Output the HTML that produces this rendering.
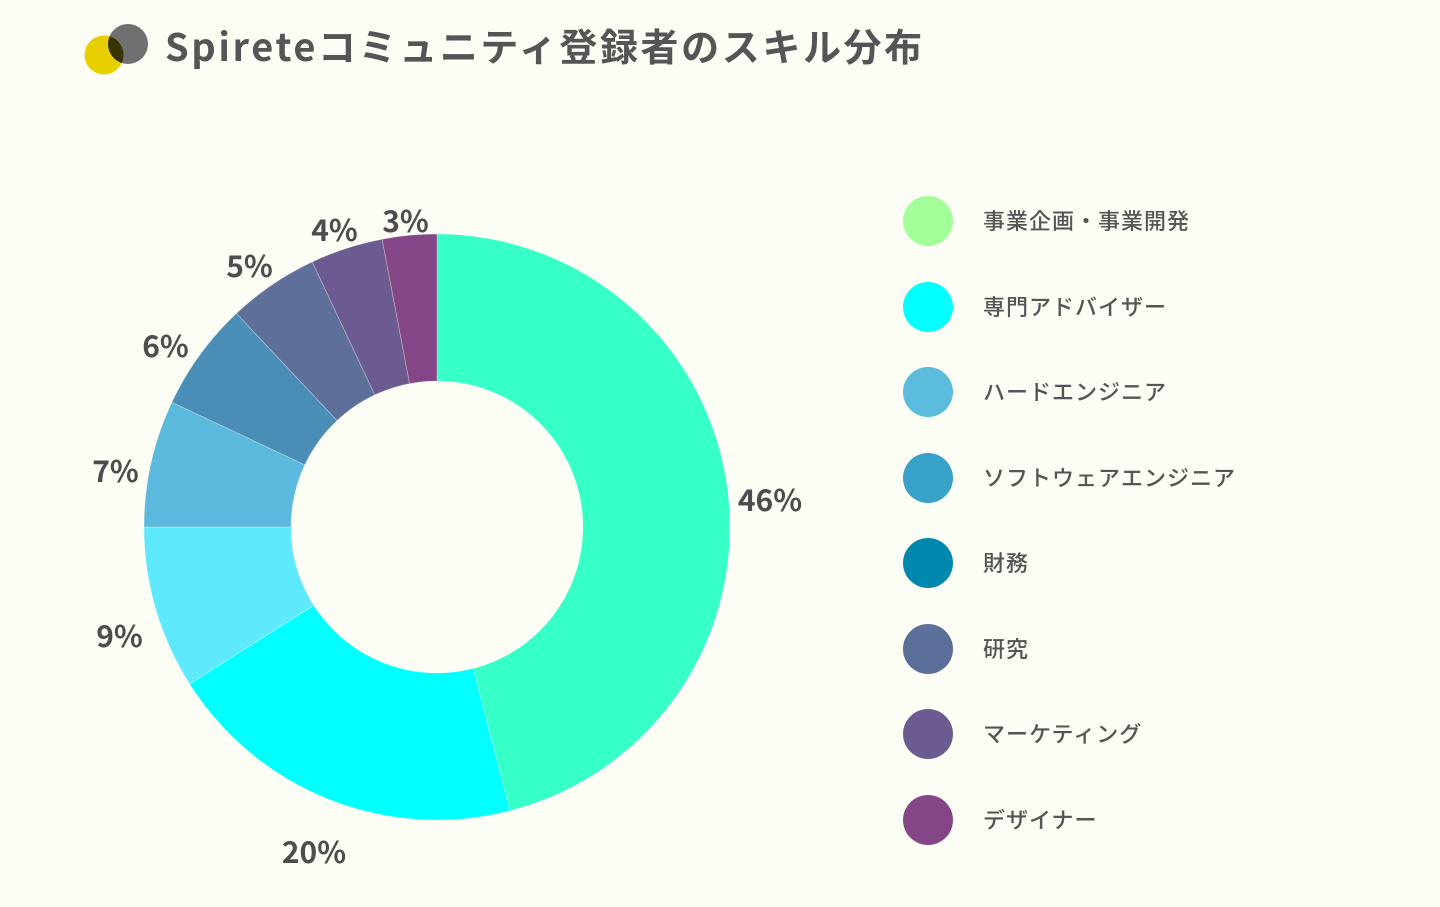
<!DOCTYPE html>
<html>
<head>
<meta charset="utf-8">
<style>
html,body{margin:0;padding:0;background:#fcfdf4;}
body{width:1440px;height:907px;overflow:hidden;}
svg{display:block;}
</style>
</head>
<body>
<svg width="1440" height="907" viewBox="0 0 1440 907" xmlns="http://www.w3.org/2000/svg">
<rect width="1440" height="907" fill="#fcfdf4"/>
<defs>
<clipPath id="yc"><circle cx="104" cy="55" r="19.5"/></clipPath>
</defs>
<!-- logo -->
<circle cx="104" cy="55" r="19.5" fill="#e8cf00"/>
<circle cx="128" cy="44" r="20" fill="#707070"/>
<circle cx="128" cy="44" r="20" fill="#3a3500" clip-path="url(#yc)"/>
<!-- title -->
<text x="165" y="61" font-family="'Noto Sans CJK JP','Liberation Sans',sans-serif" font-weight="bold" font-size="38" letter-spacing="2.6" fill="#555555">Spireteコミュニティ登録者のスキル分布</text>

<!-- donut -->
<g stroke="#fcfdf4" stroke-opacity="0.35" stroke-width="0.8">
<path d="M437,234 A293,293 0 0 1 509.87,810.79 L473.31,668.41 A146,146 0 0 0 437,381 Z" fill="#36ffc8"/>
<path d="M509.87,810.79 A293,293 0 0 1 189.61,684.00 L313.73,605.23 A146,146 0 0 0 473.31,668.41 Z" fill="#00ffff"/>
<path d="M189.61,684.00 A293,293 0 0 1 144,527 L291,527 A146,146 0 0 0 313.73,605.23 Z" fill="#5ee9ff"/>
<path d="M144,527 A293,293 0 0 1 171.88,402.25 L304.89,464.84 A146,146 0 0 0 291,527 Z" fill="#5bb9de"/>
<path d="M171.88,402.25 A293,293 0 0 1 236.43,313.41 L337.06,420.57 A146,146 0 0 0 304.89,464.84 Z" fill="#4a8eb8"/>
<path d="M236.43,313.41 A293,293 0 0 1 312.25,261.88 L374.84,394.89 A146,146 0 0 0 337.06,420.57 Z" fill="#5e6f9a"/>
<path d="M312.25,261.88 A293,293 0 0 1 382.10,239.19 L409.64,383.59 A146,146 0 0 0 374.84,394.89 Z" fill="#6c5b90"/>
<path d="M382.10,239.19 A293,293 0 0 1 437,234 L437,381 A146,146 0 0 0 409.64,383.59 Z" fill="#844686"/>
</g>

<!-- labels -->
<g font-family="'Noto Sans CJK JP','Liberation Sans',sans-serif" font-weight="bold" font-size="30" fill="#4d4d4d" text-anchor="middle">
<text x="770" y="511">46%</text>
<text x="314" y="863">20%</text>
<text x="119.5" y="647">9%</text>
<text x="115.5" y="482">7%</text>
<text x="165.5" y="357">6%</text>
<text x="249.5" y="277">5%</text>
<text x="334.5" y="241">4%</text>
<text x="405.5" y="232">3%</text>
</g>

<!-- legend -->
<circle cx="928" cy="221" r="25" fill="#a3ff99"/>
<circle cx="928" cy="307" r="25" fill="#00ffff"/>
<circle cx="928" cy="392" r="25" fill="#5bbcdd"/>
<circle cx="928" cy="478" r="25" fill="#38a2c9"/>
<circle cx="928" cy="563" r="25" fill="#0087ad"/>
<circle cx="928" cy="649" r="25" fill="#5c6f9a"/>
<circle cx="928" cy="734" r="25" fill="#6c5b90"/>
<circle cx="928" cy="820" r="25" fill="#844686"/>
<g font-family="'Noto Sans CJK JP','Liberation Sans',sans-serif" font-size="22" letter-spacing="1" fill="#555555" font-weight="500">
<text x="983" y="229">事業企画・事業開発</text>
<text x="983" y="315">専門アドバイザー</text>
<text x="983" y="400">ハードエンジニア</text>
<text x="983" y="486">ソフトウェアエンジニア</text>
<text x="983" y="571">財務</text>
<text x="983" y="657">研究</text>
<text x="983" y="742">マーケティング</text>
<text x="983" y="828">デザイナー</text>
</g>
</svg>
</body>
</html>
